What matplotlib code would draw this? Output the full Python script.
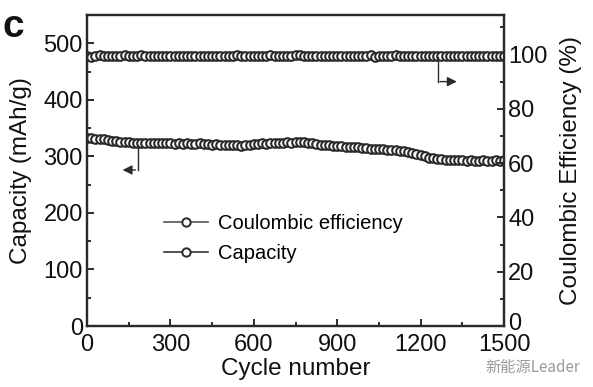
import numpy as np
import matplotlib
matplotlib.use("Agg")
import matplotlib.pyplot as plt
from matplotlib.transforms import ScaledTranslation

plt.rcParams['font.family'] = ['Liberation Sans', 'DejaVu Sans']

cycles = np.arange(0, 1501, 15)
capacity = [333, 332, 331, 330, 330, 329, 328, 327, 326, 325,
            325, 324, 324, 323, 323, 324, 323, 323, 324, 323,
            323, 322, 323, 322, 323, 322, 322, 323, 322, 322,
            321, 322, 321, 320, 321, 320, 320, 319, 320, 321,
            322, 322, 323, 322, 323, 324, 323, 324, 325, 324,
            325, 326, 326, 324, 323, 322, 321, 320, 321, 319,
            318, 318, 317, 317, 316, 316, 315, 315, 314, 314,
            313, 313, 312, 311, 311, 310, 309, 308, 306, 304,
            302, 300, 298, 297, 296, 295, 294, 294, 293, 293,
            293, 292, 293, 292, 292, 293, 292, 292, 293, 292,
            293]
efficiency = [99.6, 99.2, 99.5, 99.8, 99.4, 99.5, 99.6, 99.3, 99.5, 99.7,
              99.4, 99.5, 99.6, 99.8, 99.4, 99.5, 99.3, 99.6, 99.5, 99.4,
              99.5, 99.6, 99.4, 99.5, 99.5, 99.6, 99.4, 99.5, 99.5, 99.4,
              99.6, 99.5, 99.4, 99.5, 99.6, 99.5, 99.7, 99.5, 99.4, 99.6,
              99.5, 99.4, 99.5, 99.6, 99.8, 99.5, 99.4, 99.5, 99.6, 99.5,
              99.9, 99.7, 99.5, 99.4, 99.5, 99.6, 99.5, 99.4, 99.5, 99.6,
              99.5, 99.4, 99.5, 99.5, 99.6, 99.5, 99.4, 99.5, 99.8, 99.0,
              99.5, 99.3, 99.6, 99.5, 99.9, 99.5, 99.6, 99.4, 99.5, 99.5,
              99.6, 99.5, 99.4, 99.5, 99.6, 99.5, 99.4, 99.5, 99.6, 99.5,
              99.5, 99.4, 99.6, 99.5, 99.5, 99.4, 99.5, 99.6, 99.5, 99.5,
              99.5]

x_ticks = [0, 300, 600, 900, 1200, 1500]
left_ticks = [0, 100, 200, 300, 400, 500]
right_ticks = [0, 20, 40, 60, 80, 100]

dark = '#2a2a2a'
fig = plt.figure(figsize=(5.93, 3.87), dpi=100)
ax = fig.add_axes([0.1467, 0.1576, 0.7033, 0.8034])
ax2 = ax.twinx()

mk = dict(marker='o', markersize=6.2, markerfacecolor='white', markeredgewidth=1.5,
          linewidth=1.2)
l1, = ax2.plot(cycles, efficiency, color='#555555', markeredgecolor=dark, label='Coulombic efficiency', **mk)
l2, = ax.plot(cycles, capacity, color='#333333', markeredgecolor=dark, label='Capacity', **mk)

ax.set_xlim(0, 1500)
ax.set_ylim(0, 550)
ax2.set_ylim(0, 114.5)
ax.set_xticks(x_ticks)
ax.set_xticks(np.arange(150, 1500, 300), minor=True)
ax.set_yticks(left_ticks)
ax.set_yticks(np.arange(50, 550, 100), minor=True)
ax2.set_yticks(right_ticks)
ax2.set_yticks(np.arange(10, 114, 20), minor=True)

for a in (ax, ax2):
    for s in a.spines.values():
        s.set_linewidth(1.6)
        s.set_color(dark)
    a.tick_params(which='both', direction='in', width=1.4, color=dark, labelsize=17,
                  labelcolor='#111111')
    a.tick_params(which='major', length=5)
    a.tick_params(which='minor', length=3)
ax.tick_params(axis='x', pad=6)
ax.tick_params(axis='y', pad=3)
ax2.tick_params(axis='y', pad=3)

# lift the right-axis "0" slightly so it does not collide with "1500"
zero_lbl = ax2.yaxis.get_major_ticks()[0].label2
zero_lbl.set_transform(zero_lbl.get_transform() + ScaledTranslation(0, 3 / 72, fig.dpi_scale_trans))

ax.set_xlabel('Cycle number', fontsize=17.5, labelpad=1, color='#111111')
ax.set_ylabel('Capacity (mAh/g)', fontsize=17.5, labelpad=8, color='#111111')
ax2.set_ylabel('Coulombic Efficiency (%)', fontsize=17.5, labelpad=9, color='#111111')

# arrows
ax.plot([183, 183], [321, 276], color=dark, linewidth=1.0)
ax.annotate('', xy=(118, 276), xytext=(184, 276),
            arrowprops=dict(arrowstyle='-|>', color=dark, lw=1.0, mutation_scale=14))
ax2.plot([1261, 1261], [99, 90], color=dark, linewidth=1.0)
ax2.annotate('', xy=(1340, 90), xytext=(1260, 90),
             arrowprops=dict(arrowstyle='-|>', color=dark, lw=1.0, mutation_scale=14))

leg = ax.legend(handles=[l1, l2], loc='upper left', bbox_to_anchor=(0.165, 0.385),
                frameon=False, fontsize=14.5, handlelength=2.2, handletextpad=0.5,
                labelspacing=0.55, borderaxespad=0)
for h in leg.get_lines():
    h.set_markersize(6)
    h.set_markeredgewidth(1.4)

fig.text(0.005, 0.905, 'c', fontsize=28, fontweight='bold', color='#111111')
fig.text(0.818, 0.038, '新能源Leader', fontsize=11, color='#9a9a9a',
         family=['Noto Sans CJK SC', 'DejaVu Sans'])

fig.savefig('out.png', dpi=100)
